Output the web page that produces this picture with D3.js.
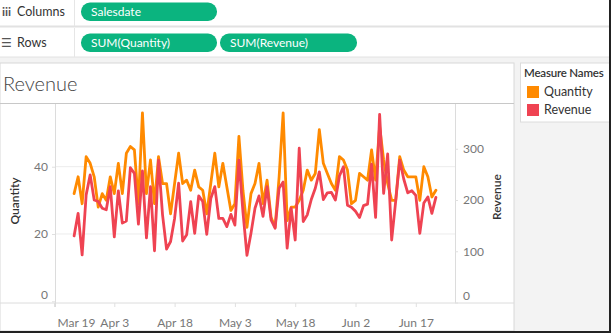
<!DOCTYPE html>
<html><head><meta charset="utf-8">
<script src="https://cdn.jsdelivr.net/npm/d3@7"></script>
<style>
html,body{margin:0;padding:0;background:#f3f3f3;}
svg{display:block;font-family:Lato,"Open Sans",sans-serif;}
</style></head>
<body><svg id="c" width="611" height="333"></svg>
<script>
// ---- data ----
const startDate = Date.UTC(2023, 2, 24);   // Mar 24
const endDate   = Date.UTC(2023, 5, 22);   // Jun 22
const quantity = [32,37,29,43,41,37,28,32,30,37, 32,41,32,44,46,45,29,56,32,42,
  29,43,35,35,26,35,44,35,36,33, 39,34,33,26,35,44,34,41,34,27,
  29,49,33,22,32,35,41,29,36,25, 22,37,56,24,28,28,30,33,39,36,
  38,51,41,38,35,33,43,42,39,29, 30,38,37,36,45,36,52,42,35,30,
  30,43,39,37,37,37,30,40,37,31, 33];
const revenue = [130,174,93,210,249,200,197,184,181,226, 128,218,155,159,263,252,153,257,126,226,
  101,278,171,104,119,164,233,120,132,197, 135,208,197,133,203,226,164,164,148,172,
  151,278,177,92,135,184,208,168,226,161, 145,223,235,106,184,122,301,158,171,201,
  223,255,201,214,215,200,247,265,190,186, 178,166,189,192,270,166,367,213,290,122,
  198,278,241,214,218,209,135,194,206,174, 205];
const xTickDates = ["2023-03-19","2023-04-03","2023-04-18","2023-05-03","2023-05-18","2023-06-02","2023-06-17"];
const quantityTicks = [0,20,40];
const revenueTicks = [0,100,200,300];
const seriesNames = ["Quantity","Revenue"];
const seriesColors = ["#FF8A00","#EF4352"];

const dates = d3.utcDay.range(new Date(startDate), new Date(endDate + 1));

const svg = d3.select("#c");
const W = 611, H = 333;

// ---- shelves ----
svg.append("rect").attr("x",0).attr("y",0).attr("width",W).attr("height",57).attr("fill","#fff");
svg.append("line").attr("x1",0).attr("x2",W).attr("y1",26.5).attr("y2",26.5).attr("stroke","#e2e2e2").attr("stroke-width",2);
svg.append("line").attr("x1",0).attr("x2",W).attr("y1",57).attr("y2",57).attr("stroke","#e2e2e2").attr("stroke-width",1);
svg.append("line").attr("x1",74.5).attr("x2",74.5).attr("y1",0).attr("y2",26).attr("stroke","#e6e6e6");
svg.append("line").attr("x1",74.5).attr("x2",74.5).attr("y1",28).attr("y2",57).attr("stroke","#e6e6e6");
svg.append("text").attr("x",2).attr("y",16).attr("font-size",12).attr("font-weight","bold").attr("fill","#555").text("iii");
svg.append("text").attr("x",17).attr("y",16).attr("font-size",12.5).attr("fill","#333").text("Columns");
svg.append("text").attr("x",1).attr("y",47).attr("font-size",12).attr("fill","#555").attr("font-family","DejaVu Sans").text("☰");
svg.append("text").attr("x",17).attr("y",47).attr("font-size",12.5).attr("fill","#333").text("Rows");
const pills = [
  {x:81, y:2.5, w:136, t:"Salesdate"},
  {x:81, y:33.5, w:136, t:"SUM(Quantity)"},
  {x:220, y:33.5, w:137, t:"SUM(Revenue)"}
];
pills.forEach(p=>{
  svg.append("rect").attr("x",p.x).attr("y",p.y).attr("width",p.w).attr("height",18.5).attr("rx",9).attr("fill","#0BB47F");
  svg.append("text").attr("x",p.x+10).attr("y",p.y+13.5).attr("font-size",12).attr("fill","#fff").text(p.t);
});

// ---- worksheet panel ----
svg.append("rect").attr("x",0).attr("y",63).attr("width",514).attr("height",268).attr("fill","#fff").attr("stroke","#d8d8d8");
svg.append("text").attr("x",3).attr("y",91).attr("font-size",20).attr("font-weight",300).attr("fill","#444").text("Revenue");
svg.append("line").attr("x1",0).attr("x2",514).attr("y1",103.5).attr("y2",103.5).attr("stroke","#c8c8c8");

// ---- scales ----
const x = d3.scaleUtc().domain([new Date(Date.UTC(2023,2,19)), new Date(Date.UTC(2023,5,27))]).range([54,456]);
const yQ = d3.scaleLinear().domain([0,58.93]).range([301.3,103]);
const yR = d3.scaleLinear().domain([0,389.3]).range([302.5,103]);

// gridlines
svg.append("g").selectAll("line").data(quantityTicks.filter(d=>d>0)).join("line")
  .attr("x1",55).attr("x2",455).attr("y1",d=>yQ(d)).attr("y2",d=>yQ(d)).attr("stroke","#ececec");

// axis frame lines
svg.append("line").attr("x1",55.5).attr("x2",55.5).attr("y1",104).attr("y2",307).attr("stroke","#dcdcdc");
svg.append("line").attr("x1",455.5).attr("x2",455.5).attr("y1",104).attr("y2",303).attr("stroke","#dcdcdc");
svg.append("line").attr("x1",0).attr("x2",514).attr("y1",303).attr("y2",303).attr("stroke","#dcdcdc");

// left axis
const gL = svg.append("g").attr("transform","translate(55,0)")
  .call(d3.axisLeft(yQ).tickValues(quantityTicks).tickSize(3).tickFormat(d3.format("d")));
gL.select(".domain").remove();
gL.selectAll("line").attr("stroke","#e0e0e0");
gL.selectAll("text").attr("fill","#777").attr("font-size",12).attr("font-family","Lato,sans-serif").attr("x",-7)
  .attr("dy",d=>d===0?"-0.25em":"0.32em");

// right axis
const gR = svg.append("g").attr("transform","translate(455,0)")
  .call(d3.axisRight(yR).tickValues(revenueTicks).tickSize(3).tickFormat(d3.format("d")));
gR.select(".domain").remove();
gR.selectAll("line").attr("stroke","#e0e0e0");
gR.selectAll("text").attr("fill","#777").attr("font-size",12).attr("font-family","Lato,sans-serif").attr("x",8)
  .attr("dy",d=>d===0?"-0.25em":"0.32em");

// bottom axis
const tickDates = xTickDates.map(s=>new Date(s+"T00:00:00Z"));
const gB = svg.append("g").attr("transform","translate(0,303)")
  .call(d3.axisBottom(x).tickValues(tickDates).tickSize(4).tickFormat(d3.utcFormat("%b %-d")));
gB.select(".domain").remove();
gB.selectAll("line").attr("stroke","#e0e0e0");
gB.selectAll("text").attr("fill","#777").attr("font-size",12).attr("font-family","Lato,sans-serif").attr("y",15)
  .attr("text-anchor",(d,i)=>i===0?"start":"middle").attr("dx",(d,i)=>i===0?3:0);

// axis titles
svg.append("text").attr("transform","translate(19,201) rotate(-90)").attr("text-anchor","middle")
  .attr("font-size",12).attr("font-weight",600).attr("fill","#333").text("Quantity");
svg.append("text").attr("transform","translate(501,197) rotate(-90)").attr("text-anchor","middle")
  .attr("font-size",12).attr("font-weight",600).attr("fill","#333").text("Revenue");

// lines
const lineQ = d3.line().x((d,i)=>x(dates[i])).y(d=>yQ(d));
const lineR = d3.line().x((d,i)=>x(dates[i])).y(d=>yR(d));
svg.append("path").datum(quantity).attr("d",lineQ).attr("fill","none").attr("stroke",seriesColors[0])
  .attr("stroke-width",2.8).attr("stroke-linejoin","round").attr("stroke-linecap","round");
svg.append("path").datum(revenue).attr("d",lineR).attr("fill","none").attr("stroke",seriesColors[1])
  .attr("stroke-width",2.8).attr("stroke-linejoin","round").attr("stroke-linecap","round");

// ---- legend ----
svg.append("rect").attr("x",520.5).attr("y",63).attr("width",95).attr("height",59).attr("fill","#fff").attr("stroke","#dcdcdc");
svg.append("text").attr("x",524).attr("y",77).attr("font-size",11.5).attr("font-weight",600).attr("letter-spacing","-0.2").attr("fill","#333").text("Measure Names");
seriesNames.forEach((n,i)=>{
  svg.append("rect").attr("x",527).attr("y",86+i*18).attr("width",12).attr("height",12).attr("fill",seriesColors[i]);
  svg.append("text").attr("x",544).attr("y",96+i*18).attr("font-size",12.5).attr("fill","#333").text(n);
});

// outer frame (bottom/right dark edge)
svg.append("line").attr("x1",0).attr("x2",W).attr("y1",332).attr("y2",332).attr("stroke","#222").attr("stroke-width",2);
svg.append("line").attr("x1",610).attr("x2",610).attr("y1",0).attr("y2",H).attr("stroke","#222").attr("stroke-width",2);
</script></body></html>
